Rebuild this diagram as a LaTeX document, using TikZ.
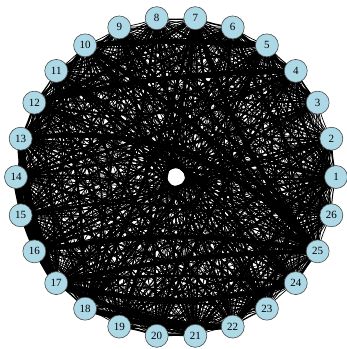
\documentclass[tikz,border=0pt]{standalone}
\usepackage{fontspec}
\setmainfont{Liberation Serif}
\usetikzlibrary{backgrounds}
\definecolor{vtxblue}{RGB}{173,216,230}
\tikzset{
  vertex/.style={circle, draw=gray!60!black, fill=vtxblue, line width=0.6pt,
                 minimum size=23pt, inner sep=0pt, font=\fontsize{11}{11}\selectfont},
  edge/.style={black, line cap=round},
  heavy/.style={edge, line width=5pt},
}
\begin{document}
\begin{tikzpicture}[x=1pt, y=1pt]
  \useasboundingbox (0,0) rectangle (347,-349);
  % vertices on a circle, counterclockwise from the right
  \foreach \i in {1,...,26}
    \node[vertex] (n\i) at ({176+160*cos((\i-1)*360/26)}, {-177+160*sin((\i-1)*360/26)}) {\i};
  \begin{pgfonlayer}{background}
    \pgfmathsetseed{4711}
    \foreach \i in {1,...,25}{
      \pgfmathtruncatemacro{\k}{\i+1}
      \foreach \j in {\k,...,26}{
        \pgfmathsetmacro{\w}{0.7+2.4*rnd^4}
        \pgfmathsetmacro{\v}{0.4+1.6*rnd^3}
        \pgfmathtruncatemacro{\d}{\j-\i}
        % near-diameters keep a fixed bend, so the middle stays open
        \ifnum\d>10 \ifnum\d<16
          \def\b{18}
        \else
          \pgfmathsetmacro{\b}{18+14*rnd}
        \fi \else
          \pgfmathsetmacro{\b}{18+14*rnd}
        \fi
        \ifnum\d<14
          \draw[edge, line width=\w pt] (n\i.center) to[bend left=6] (n\j.center);
          \draw[edge, line width=\v pt] (n\i.center) to[bend left=\b] (n\j.center);
        \else
          \draw[edge, line width=\w pt] (n\i.center) to[bend right=6] (n\j.center);
          \draw[edge, line width=\v pt] (n\i.center) to[bend right=\b] (n\j.center);
        \fi
      }
    }
    % strongest ties
    \draw[heavy] (n13.center) to[bend left=28] (n25.center);
    \draw[heavy] (n10.center) to[bend left=8] (n25.center);
    \draw[heavy] (n7.center) to[bend right=10] (n25.center);
    \draw[heavy] (n16.center) to[bend left=10] (n25.center);
    \draw[heavy] (n17.center) to[bend left=6] (n25.center);
    \draw[heavy] (n17.center) to[bend right=14] (n24.center);
    \draw[heavy, line width=8pt] (n13.center) to[bend right=10] (n17.center);
    \draw[heavy, line width=7pt] (n14.center) to[bend right=12] (n17.center);
    \draw[heavy] (n17.center) to[bend right=12] (n22.center);
    \draw[heavy] (n18.center) to[bend right=10] (n22.center);
    \draw[heavy] (n10.center) to[bend left=4] (n5.center);
    \draw[heavy] (n12.center) to[bend left=6] (n4.center);
  \end{pgfonlayer}
\end{tikzpicture}
\end{document}
